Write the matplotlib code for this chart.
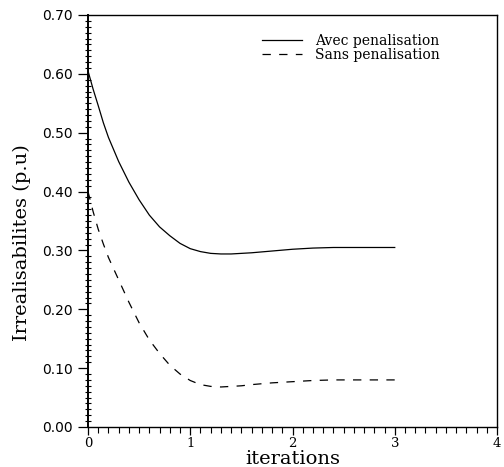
import matplotlib
matplotlib.use("Agg")
import matplotlib.pyplot as plt
from matplotlib.ticker import MultipleLocator, FormatStrFormatter

# Iteration axis and constraint violation (p.u) for both runs
iterations = [0.0, 0.05, 0.1, 0.15, 0.2, 0.3, 0.4, 0.5, 0.6, 0.7, 0.8, 0.9,
              1.0, 1.1, 1.2, 1.3, 1.4, 1.5, 1.6, 1.8, 2.0, 2.2, 2.4, 2.6, 2.8, 3.0]
avec_penalisation = [0.605, 0.574, 0.546, 0.517, 0.492, 0.451, 0.416, 0.386, 0.36,
                     0.34, 0.325, 0.312, 0.303, 0.298, 0.295, 0.294, 0.294,
                     0.295, 0.296, 0.299, 0.302, 0.304, 0.305, 0.305, 0.305, 0.305]
sans_penalisation = [0.40, 0.366, 0.336, 0.311, 0.288, 0.25, 0.212, 0.177, 0.148,
                     0.125, 0.105, 0.09, 0.079, 0.072, 0.069, 0.068, 0.069,
                     0.070, 0.072, 0.075, 0.077, 0.079, 0.080, 0.080, 0.080, 0.080]

labels = ["Avec penalisation", "Sans penalisation"]
x_label = "iterations"
y_label = "Irrealisabilites (p.u)"

plt.rcParams["lines.scale_dashes"] = False

fig = plt.figure(figsize=(5.04, 4.67), dpi=100)
ax = fig.add_axes([88 / 504, 40 / 467, 409 / 504, 412 / 467])

ax.plot(iterations, avec_penalisation, color="black", lw=0.9, label=labels[0])
ax.plot(iterations, sans_penalisation, color="black", lw=0.9,
        dashes=(6, 6), label=labels[1])

ax.set_xlim(0, 4)
ax.set_ylim(0, 0.70)

ax.xaxis.set_major_locator(MultipleLocator(1))
ax.xaxis.set_minor_locator(MultipleLocator(0.1))
ax.yaxis.set_major_locator(MultipleLocator(0.1))
ax.yaxis.set_minor_locator(MultipleLocator(0.01))
ax.yaxis.set_major_formatter(FormatStrFormatter("%.2f"))

ax.tick_params(axis="y", which="major", direction="out", length=7, width=0.9,
               labelsize=10, pad=4)
ax.tick_params(axis="y", which="minor", direction="inout", length=5, width=0.8)
ax.tick_params(axis="x", which="major", direction="out", length=6, width=0.9,
               labelsize=9.5, pad=1)
ax.tick_params(axis="x", which="minor", direction="out", length=4, width=0.8)
for lab in ax.get_xticklabels():
    lab.set_fontfamily("DejaVu Serif")

for side in ["left", "bottom", "top", "right"]:
    ax.spines[side].set_linewidth(1.0)
ax.spines["left"].set_linewidth(1.4)

ax.set_xlabel(x_label, family="DejaVu Serif", fontsize=14, labelpad=-2)
ax.set_ylabel(y_label, family="DejaVu Serif", fontsize=14)
ax.xaxis.set_label_coords(0.50, -0.055)
ax.yaxis.set_label_coords(-0.14, 0.447)

leg = ax.legend(loc="upper left", bbox_to_anchor=(0.425, 0.955), frameon=False,
                borderpad=0, borderaxespad=0, handlelength=2.9,
                handletextpad=0.9, labelspacing=0.05,
                prop={"family": "DejaVu Serif", "size": 10})

fig.savefig("out.png", dpi=100)
